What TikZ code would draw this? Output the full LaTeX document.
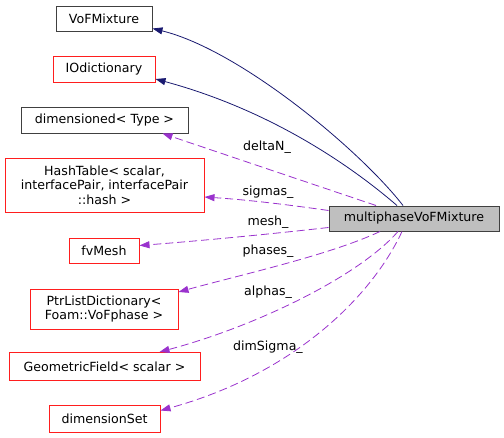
\documentclass[tikz,border=0pt]{standalone}
\usepackage{fontspec}
\setmainfont{DejaVu Sans}
\usetikzlibrary{arrows.meta,positioning,calc}
\definecolor{edgeNavy}{RGB}{25, 25, 112}
\definecolor{edgePurple}{RGB}{154, 50, 205}
\definecolor{boxRed}{RGB}{255, 30, 30}
\definecolor{boxDark}{RGB}{64, 64, 64}
\definecolor{boxGray}{RGB}{191, 191, 191}

\begin{document}
\begin{tikzpicture}[x=1pt, y=-1pt,
    font=\fontsize{12.6pt}{14.5pt}\selectfont,
    classbox/.style={draw=boxDark, fill=white, line width=1pt, inner sep=0pt, align=center},
    redbox/.style={classbox, draw=boxRed},
    inherit/.style={-{Triangle[length=10pt, width=7pt]}, line width=0.8pt, color=edgeNavy},
    member/.style={-{Triangle[length=10pt, width=7pt]}, line width=0.8pt, color=edgePurple, dash pattern=on 8pt off 4pt},
    lbl/.style={inner sep=0pt}]
      \useasboundingbox (0,0) rectangle (504,437);

      % classes on the left
      \node (vof) [classbox, minimum width=96pt, minimum height=25pt] at (104,18.5) {VoFMixture};
      \node (iodict) [redbox, minimum width=102pt, minimum height=26pt] at (104,69) {IOdictionary};
      \node (dimtype) [classbox, minimum width=167pt, minimum height=26pt] at (104.5,120) {dimensioned\textless{} Type \textgreater};
      \node (hashtab) [redbox, minimum width=199pt, minimum height=54pt] at (104.5,185) {HashTable\textless{} scalar,\\ interfacePair, interfacePair\\ ::hash \textgreater};
      \node (fvmesh) [redbox, minimum width=70pt, minimum height=25pt] at (104,250.5) {fvMesh};
      \node (ptrdict) [redbox, minimum width=148pt, minimum height=40pt] at (104,309) {PtrListDictionary\textless\\ Foam::VoFphase \textgreater};
      \node (geofield) [redbox, minimum width=191pt, minimum height=28pt] at (104.5,366.5) {GeometricField\textless{} scalar \textgreater};
      \node (dimset) [redbox, minimum width=111pt, minimum height=27pt] at (104.5,418.5) {dimensionSet};

      % the class itself
      \node (mixture) [classbox, fill=boxGray, minimum width=170pt, minimum height=25pt] at (414,218.5) {multiphaseVoFMixture};

      % base classes
      \draw[inherit] ([xshift=-11pt]mixture.north) .. controls (360,150) and (240,50) .. ([yshift=-10pt]vof.east);
      \draw[inherit] ([xshift=-17pt]mixture.north) .. controls (350,165) and (270,110) .. ([yshift=-10pt]iodict.east);

      % members
      \draw[member] ([xshift=-38pt]mixture.north) -- ([xshift=58pt]dimtype.south);
      \draw[member] ([yshift=8pt]mixture.west) .. controls (290,205) and (250,200) .. ([yshift=-12pt]hashtab.east);
      \draw[member] ([yshift=-9pt]mixture.west) .. controls (280,233) and (210,240) .. ([yshift=5pt]fvmesh.east);
      \draw[member] ([xshift=-34pt]mixture.south) .. controls (330,255) and (240,275) .. ([yshift=17pt]ptrdict.east);
      \draw[member] ([xshift=-16pt]mixture.south) .. controls (360,275) and (260,325) .. ([xshift=55pt]geofield.north);
      \draw[member] ([xshift=-12pt]mixture.south) .. controls (370,300) and (290,375) .. ([yshift=8pt]dimset.east);

      % member labels
      \node (lDeltaN) [lbl] at (267,147) {deltaN\_};
      \node (lSigmas) [lbl] at (268,192) {sigmas\_};
      \node (lMesh) [lbl] at (268,222) {mesh\_};
      \node (lPhases) [lbl] at (268,251) {phases\_};
      \node (lAlphas) [lbl] at (268,292) {alphas\_};
      \node (lDimSigma) [lbl] at (268,347) {dimSigma\_};
  \end{tikzpicture}
\end{document}
